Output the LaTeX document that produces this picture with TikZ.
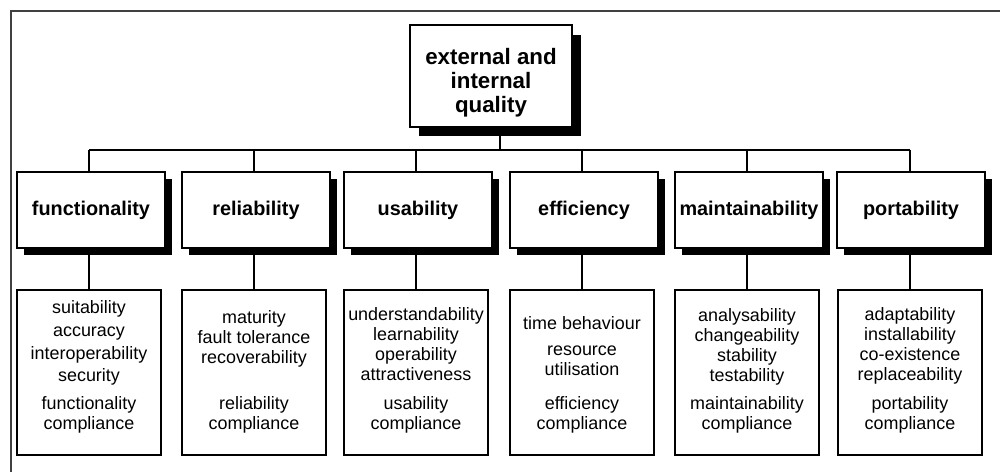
\documentclass[tikz,border=0pt]{standalone}
\usepackage{fontspec}
\setmainfont{Liberation Sans}
\usetikzlibrary{positioning}
\usetikzlibrary{shadows}

\begin{document}
\begin{tikzpicture}[x=0.02cm,y=-0.02cm,line width=1.1pt,
  box/.style={rectangle,draw,fill=white,line width=1.1pt,inner sep=0pt},
  head node/.style={box,minimum width=3.24cm,minimum height=2.04cm,
    drop shadow={shadow xshift=0.18cm,shadow yshift=-0.19cm,fill=black,opacity=1}},
  head text/.style={align=center,inner sep=0pt,font=\fontsize{12.7}{13.7}\selectfont\bfseries},
  cat node/.style={box,minimum width=2.96cm,minimum height=1.52cm,
    font=\fontsize{11.3}{13}\selectfont\bfseries,
    drop shadow={shadow xshift=0.14cm,shadow yshift=-0.14cm,fill=black,opacity=1}},
  list node/.style={box,minimum width=2.88cm,minimum height=3.3cm},
  item node/.style={align=center,inner sep=0pt,font=\fontsize{10.2}{11.4}\selectfont}]
  \useasboundingbox (0,0) rectangle (1000,472);
  \draw[line width=0.6pt,black!75] (11,472) -- (11,11) -- (1000,11);

  % top of the tree
  \node[head node] (q) at (491,76) {};
  \node[head text] (qt) [below=0.46cm of q.north] {external and\\internal\\quality};

  % characteristics
  \node[cat node] (c1) at (91,210) {functionality};
  \node[cat node] (c2) at (256,210) {reliability};
  \node[cat node] (c3) at (418,210) {usability};
  \node[cat node] (c4) at (584,210) {efficiency};
  \node[cat node] (c5) at (749,210) {maintainability};
  \node[cat node] (c6) at (911,210) {portability};

  % sub-characteristics
  \node[list node] (d1) at (89,372.5) {};
  \node[list node] (d2) at (254,372.5) {};
  \node[list node] (d3) at (416,372.5) {};
  \node[list node] (d4) at (582,372.5) {};
  \node[list node] (d5) at (747,372.5) {};
  \node[list node] (d6) at (910,372.5) {};
  \node[item node] (t1) [above=0.43cm of d1.south] {suitability\\[0.06cm]accuracy\\[0.06cm]interoperability\\[0.04cm]security\\[0.16cm]functionality\\compliance};
  \node[item node] (t2) [above=0.43cm of d2.south] {maturity\\fault tolerance\\recoverability\\[0.52cm]reliability\\compliance};
  \node[item node] (t3) [above=0.43cm of d3.south] {understandability\\learnability\\operability\\attractiveness\\[0.18cm]usability\\compliance};
  \node[item node] (t4) [above=0.43cm of d4.south] {time behaviour\\[0.12cm]resource\\utilisation\\[0.28cm]efficiency\\compliance};
  \node[item node] (t5) [above=0.43cm of d5.south] {analysability\\changeability\\stability\\testability\\[0.16cm]maintainability\\compliance};
  \node[item node] (t6) [above=0.43cm of d6.south] {adaptability\\installability\\co-existence\\replaceability\\[0.18cm]portability\\compliance};

  % connectors
  \coordinate (j) at (500,150);
  \draw (j) -- (j |- q.south);
  \draw (d1.north |- j) -- (d6.north |- j);
  \draw (d1.north |- j) -- (d1.north |- c1.north);
  \draw (d2.north |- j) -- (d2.north |- c2.north);
  \draw (d3.north |- j) -- (d3.north |- c3.north);
  \draw (d4.north |- j) -- (d4.north |- c4.north);
  \draw (d5.north |- j) -- (d5.north |- c5.north);
  \draw (d6.north |- j) -- (d6.north |- c6.north);
  \draw (d1.north) -- (d1.north |- c1.south);
  \draw (d2.north) -- (d2.north |- c2.south);
  \draw (d3.north) -- (d3.north |- c3.south);
  \draw (d4.north) -- (d4.north |- c4.south);
  \draw (d5.north) -- (d5.north |- c5.south);
  \draw (d6.north) -- (d6.north |- c6.south);
\end{tikzpicture}
\end{document}
